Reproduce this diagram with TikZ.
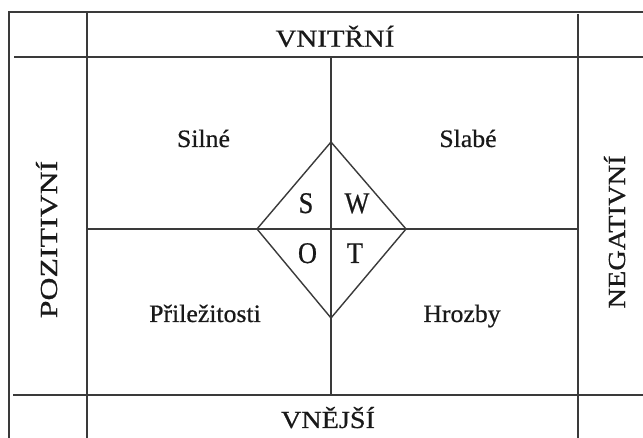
\documentclass[tikz,border=0pt]{standalone}
\usepackage{fontspec}
\setmainfont{Liberation Serif}[FakeBold=0.6]
\definecolor{ln}{RGB}{58,58,58}
\definecolor{tx}{RGB}{25,25,25}
\begin{document}
\begin{tikzpicture}[x=1pt,y=-1pt,
  grid/.style={draw=ln,line width=1.9pt},
  dia/.style={draw=ln,line width=1.4pt,line join=miter},
  caps/.style={anchor=base,inner sep=0pt,text=tx,font=\fontsize{24.5}{26}\selectfont},
  lower/.style={anchor=base,inner sep=0pt,text=tx,font=\fontsize{25}{27}\selectfont},
  swot/.style={anchor=base,inner sep=0pt,text=tx,font=\fontsize{30}{32}\selectfont}]
\useasboundingbox (0,0) rectangle (643,438);
\fill[white] (0,0) rectangle (643,438);
% grid coordinates
\coordinate (tl) at (9,12);
\coordinate (tr) at (643,12);
\coordinate (bl) at (9,438);
\coordinate (v1t) at (87,12);
\coordinate (v1b) at (87,438);
\coordinate (v2t) at (578,14);
\coordinate (v2b) at (578,438);
\coordinate (h1l) at (14,57);
\coordinate (h1r) at (643,57);
\coordinate (h2l) at (13,395);
\coordinate (h2r) at (643,395);
\coordinate (cvt) at (331,57);
\coordinate (cvb) at (331,395);
\coordinate (chl) at (87,229);
\coordinate (chr) at (578,229);
\coordinate (dt) at (331,142);
\coordinate (dr) at (406,229);
\coordinate (db) at (331,318);
\coordinate (dl) at (257,229);
\draw[grid] (bl) -- (tl) -- (tr);
\draw[grid] (v1t) -- (v1b);
\draw[grid] (v2t) -- (v2b);
\draw[grid] (h1l) -- (h1r);
\draw[grid] (h2l) -- (h2r);
\draw[grid] (cvt) -- (cvb);
\draw[grid] (chl) -- (chr);
\draw[dia] (dt) -- (dr) -- (db) -- (dl) -- cycle;
% labels
\node[caps] (vn) at (335,46.7) {\scalebox{1.18}[1]{VNITŘNÍ}};
\node[caps] (ve) at (328,428) {\scalebox{1.15}[1]{VNĚJŠÍ}};
\node[caps,rotate=90] (poz) at (57,239.5) {\scalebox{1.3}[1]{POZITIVNÍ}};
\node[caps,rotate=90] (neg) at (625,232) {\scalebox{1.16}[1]{NEGATIVNÍ}};
\node[lower] (sil) at (203.5,147) {\scalebox{1.03}[1]{Silné}};
\node[lower] (sla) at (468,147) {\scalebox{1.03}[1]{Slabé}};
\node[lower] (pri) at (205,322) {\scalebox{1.03}[1]{Přiležitosti}};
\node[lower] (hro) at (462,322) {\scalebox{1.03}[1]{Hrozby}};
\node[swot] (s) at (306,213) {\scalebox{0.88}[1]{S}};
\node[swot] (w) at (357,213) {\scalebox{0.88}[1]{W}};
\node[swot] (o) at (307.5,263) {\scalebox{0.88}[1]{O}};
\node[swot] (t) at (355,263) {\scalebox{0.88}[1]{T}};
\end{tikzpicture}
\end{document}
